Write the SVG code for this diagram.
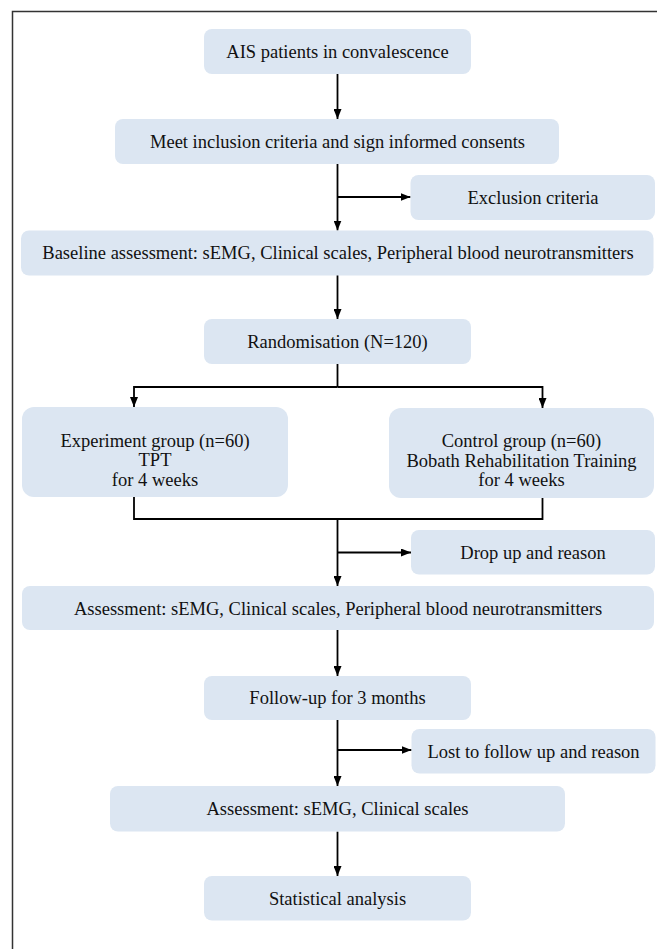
<svg xmlns="http://www.w3.org/2000/svg" width="657" height="949" viewBox="0 0 657 949">
<defs>
<marker id="ah" viewBox="0 0 10 8" refX="10" refY="4" markerWidth="10" markerHeight="8" markerUnits="userSpaceOnUse" orient="auto">
<path d="M0,0 L10,4 L0,8 z" fill="#000"/>
</marker>
</defs>
<style>
.box{fill:#dce6f2;}
.t{font-family:"Liberation Serif","Times New Roman",serif;font-size:18.5px;fill:#111;text-anchor:middle;}
.c{fill:none;stroke:#000;stroke-width:1.8;}
.a{marker-end:url(#ah);}
</style>
<rect width="657" height="949" fill="#fff"/>
<path d="M12.5,949 V11.5 H657" fill="none" stroke="#333" stroke-width="1.5"/>
<g id="connectors">
<line class="c a" x1="337.5" y1="74" x2="337.5" y2="119"/>
<line class="c a" x1="337.5" y1="164" x2="337.5" y2="230.5"/>
<line class="c a" x1="337.5" y1="197" x2="410.5" y2="197"/>
<line class="c a" x1="337.5" y1="275" x2="337.5" y2="319"/>
<polyline class="c" points="337.5,364 337.5,387"/>
<polyline class="c a" points="337.5,387 134,387 134,407"/>
<polyline class="c a" points="337.5,387 542.5,387 542.5,408"/>
<polyline class="c" points="134,497 134,519 542.5,519 542.5,497.5"/>
<line class="c a" x1="337.5" y1="519" x2="337.5" y2="586"/>
<line class="c a" x1="337.5" y1="552.5" x2="411" y2="552.5"/>
<line class="c a" x1="337.5" y1="630" x2="337.5" y2="676"/>
<line class="c a" x1="337.5" y1="720" x2="337.5" y2="786"/>
<line class="c a" x1="337.5" y1="750" x2="411.5" y2="750"/>
<line class="c a" x1="337.5" y1="831.5" x2="337.5" y2="876"/>
</g>
<g id="n1"><rect class="box" x="204" y="29" width="267" height="45" rx="8"/><text class="t" x="337.5" y="57.5">AIS patients in convalescence</text></g>
<g id="n2"><rect class="box" x="115" y="119" width="444" height="45" rx="8"/><text class="t" x="337.5" y="147.5">Meet inclusion criteria and sign informed consents</text></g>
<g id="n3"><rect class="box" x="410.5" y="175" width="244.5" height="45" rx="8"/><text class="t" x="533" y="203.5">Exclusion criteria</text></g>
<g id="n4"><rect class="box" x="21" y="230.5" width="632.5" height="45" rx="8"/><text class="t" x="338" y="259">Baseline assessment: sEMG, Clinical scales, Peripheral blood neurotransmitters</text></g>
<g id="n5"><rect class="box" x="204" y="319" width="267" height="45" rx="8"/><text class="t" x="337.5" y="347.5">Randomisation (N=120)</text></g>
<g id="n6"><rect class="box" x="22" y="407" width="266" height="90" rx="12"/><text class="t" x="155" y="446.5">Experiment group (n=60)</text><text class="t" x="155" y="466">TPT</text><text class="t" x="155" y="485.5">for 4 weeks</text></g>
<g id="n7"><rect class="box" x="389" y="408" width="265" height="90" rx="12"/><text class="t" x="521.5" y="447">Control group (n=60)</text><text class="t" x="521.5" y="466.5">Bobath Rehabilitation Training</text><text class="t" x="521.5" y="486">for 4 weeks</text></g>
<g id="n8"><rect class="box" x="411" y="530" width="244" height="44.5" rx="8"/><text class="t" x="533" y="558.5">Drop up and reason</text></g>
<g id="n9"><rect class="box" x="22" y="586" width="632" height="44" rx="8"/><text class="t" x="338" y="614.5">Assessment: sEMG, Clinical scales, Peripheral blood neurotransmitters</text></g>
<g id="n10"><rect class="box" x="204" y="676" width="267" height="44" rx="8"/><text class="t" x="337.5" y="704">Follow-up for 3 months</text></g>
<g id="n11"><rect class="box" x="411.5" y="729" width="244" height="44.5" rx="8"/><text class="t" x="533.5" y="757.5">Lost to follow up and reason</text></g>
<g id="n12"><rect class="box" x="110" y="786" width="455" height="45.5" rx="8"/><text class="t" x="337.5" y="814.5">Assessment: sEMG, Clinical scales</text></g>
<g id="n13"><rect class="box" x="204" y="876" width="267" height="44.5" rx="8"/><text class="t" x="337.5" y="904.5">Statistical analysis</text></g>
</svg>
